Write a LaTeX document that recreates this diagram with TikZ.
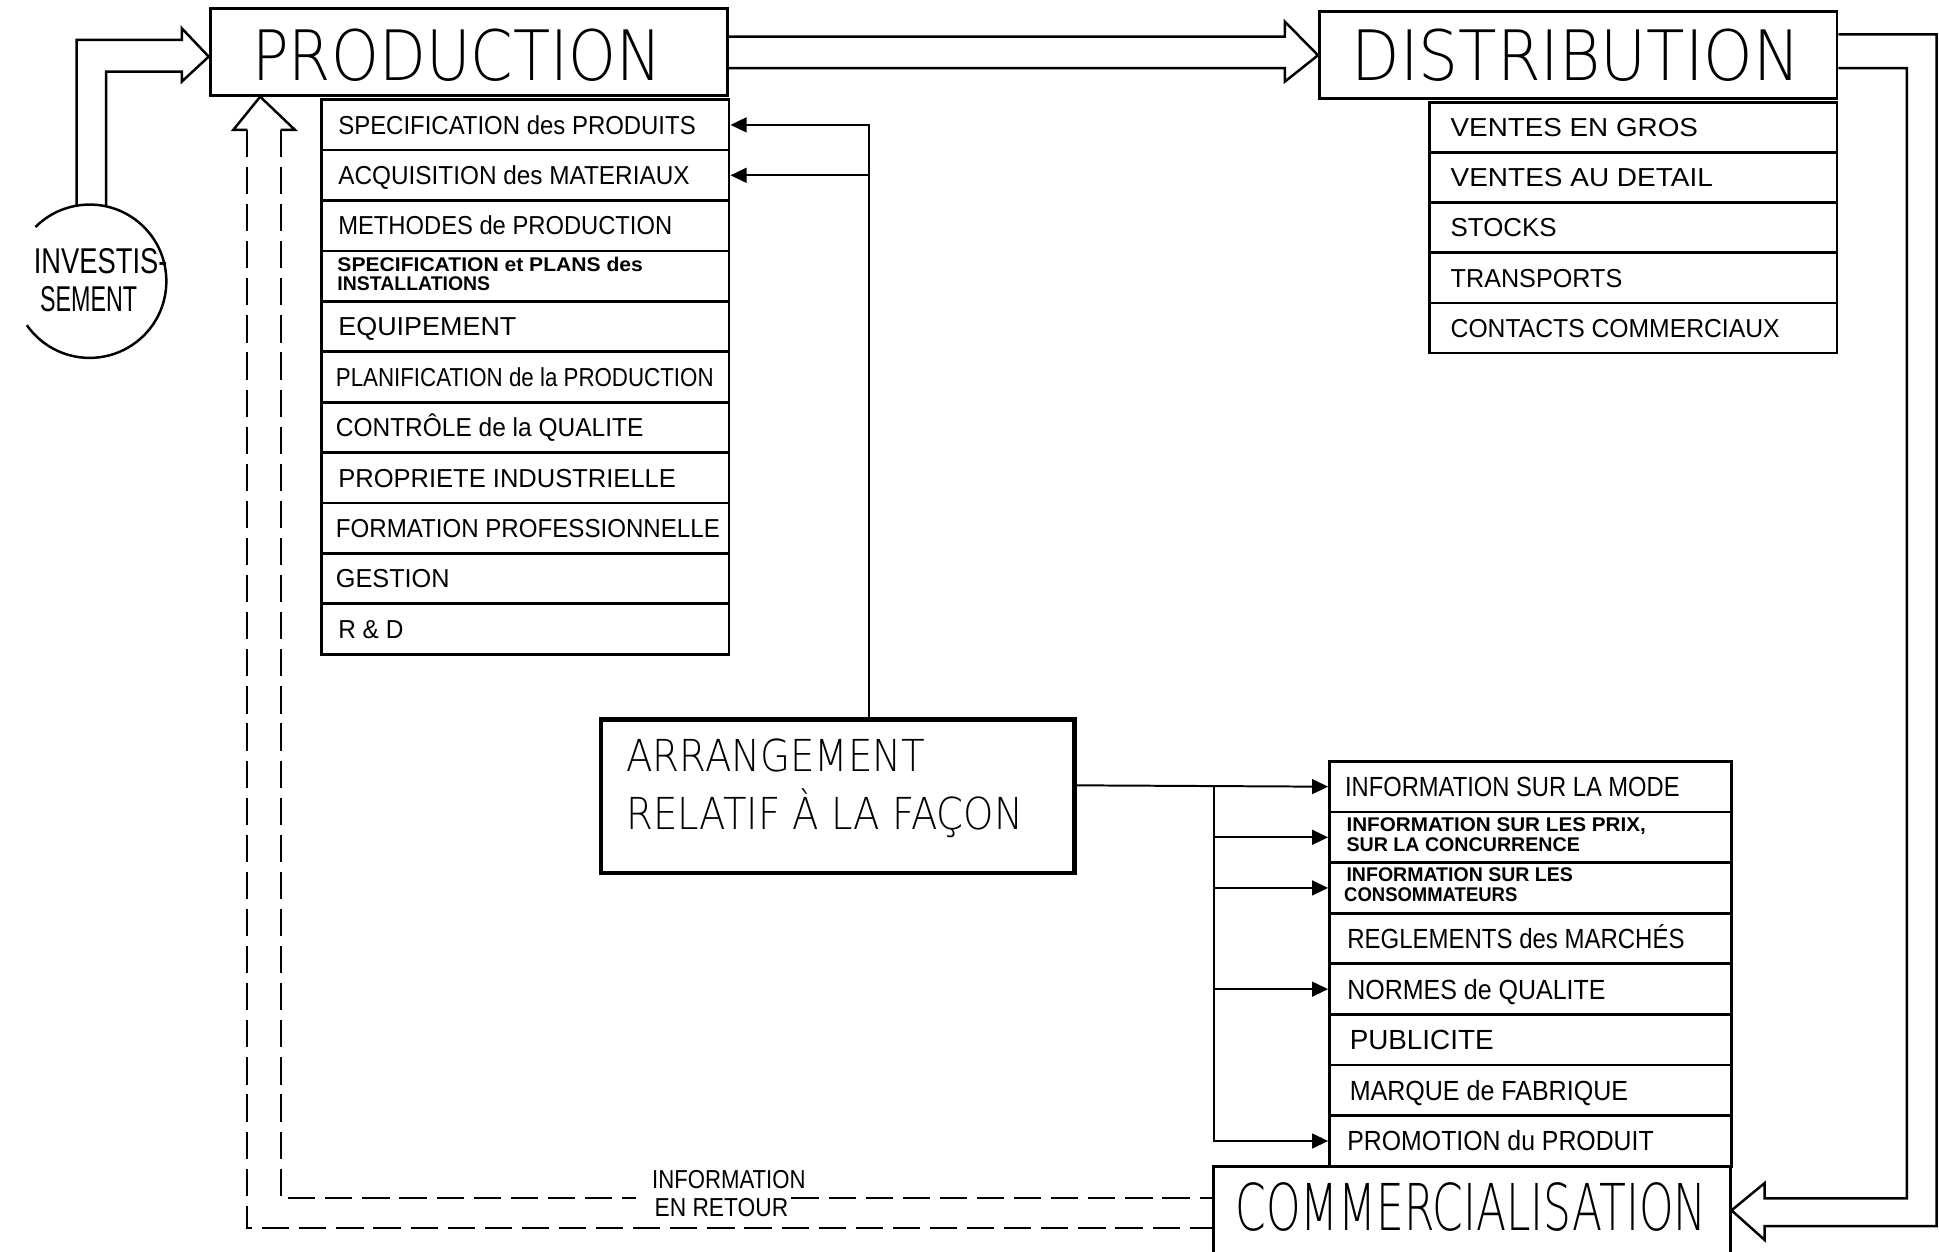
\documentclass[tikz,border=0pt]{standalone}
\usepackage{fontspec}
\setmainfont{Liberation Sans}
\newfontfamily\penfont{DejaVu Sans ExtraLight}
\usepackage{graphicx}
\usetikzlibrary{arrows.meta}

% one drawing unit
\newdimen\un \un=0.5pt
% set a text to a given width (in drawing units), keeping its height
\newcommand\fitw[2]{\resizebox{#1\un}{\height}{#2}}
% left-aligned text inside a box of given width
\newcommand\rtext[4]{\makebox[#1][l]{\hspace*{#2\un}\fitw{#3}{#4}}}
\newcommand\ptext[3]{\rtext{164.9pt}{#1}{#2}{#3}}
\newcommand\dtext[3]{\rtext{164.75pt}{#1}{#2}{#3}}
\newcommand\ctext[3]{\rtext{162.5pt}{#1}{#2}{#3}}

\tikzset{
  rowbase/.style={draw, line width=1.1pt, inner sep=0pt, anchor=north west, text depth=0pt},
  prow/.style={rowbase, minimum width=164.9pt, minimum height=20.385pt, text height=7.5pt, font=\fontsize{10.5}{12}\selectfont},
  drow/.style={rowbase, minimum width=164.75pt, minimum height=20.29pt, text height=7.5pt, font=\fontsize{10.5}{12}\selectfont},
  crow/.style={rowbase, minimum width=162.5pt, minimum height=20.465pt, text height=8pt, font=\fontsize{11.2}{13}\selectfont},
  titlebox/.style={draw, line width=1.2pt, inner sep=0pt, font=\penfont\fontsize{28.1}{30}\selectfont},
  txt/.style={inner sep=0pt, anchor=base west},
  smalltxt/.style={txt, font=\bfseries\fontsize{8}{9}\selectfont},
  wire/.style={line width=0.8pt},
  arrowlink/.style={wire, -{Triangle[length=6.5pt,width=6pt]}},
  hollow/.style={line width=1pt, line join=miter},
  feed/.style={line width=0.8pt, dash pattern=on 11pt off 4pt},
}

\begin{document}
\begin{tikzpicture}[x=0.5pt, y=-0.5pt]
\useasboundingbox (0,0) rectangle (1568,1012);
\clip (0,0) rectangle (1568,1012);

% ---------------- main blocks ----------------
\node[titlebox, minimum width=209.25pt, minimum height=35pt, text height=22.7pt, text depth=0pt]
  (prod) at (379.25,42) {\rtext{209.25pt}{34}{331}{PRODUCTION}};
\node[titlebox, minimum width=209.25pt, minimum height=35.3pt, text height=20.5pt, text depth=0pt]
  (dist) at (1276.25,44.7) {\rtext{209.25pt}{26}{363}{DISTRIBUTION}};
\node[titlebox, minimum width=209pt, minimum height=35.25pt, text height=19pt, text depth=2.75pt,
  font=\penfont\fontsize{26.1}{28}\selectfont]
  (comm) at (1190,978.75) {\rtext{209pt}{18}{381}{COMMERCIALISATION}};

% ---------------- production items ----------------
\node[prow] (p1)  at (258.7,79.5)   {\ptext{13.8}{289}{SPECIFICATION des PRODUITS}};
\node[prow] (p2)  at (258.7,120.27) {\ptext{13.8}{284}{ACQUISITION des MATERIAUX}};
\node[prow] (p3)  at (258.7,161.04) {\ptext{13.8}{270}{METHODES de PRODUCTION}};
\node[prow] (p4)  at (258.7,201.81) {};
\node[prow] (p5)  at (258.7,242.58) {\ptext{13.8}{144}{EQUIPEMENT}};
\node[prow] (p6)  at (258.7,283.35) {\ptext{11.8}{305.5}{PLANIFICATION de la PRODUCTION}};
\node[prow] (p7)  at (258.7,324.12) {\ptext{11.8}{248.7}{CONTRÔLE de la QUALITE}};
\node[prow] (p8)  at (258.7,364.89) {\ptext{13.8}{273}{PROPRIETE INDUSTRIELLE}};
\node[prow] (p9)  at (258.7,405.66) {\ptext{11.8}{310.5}{FORMATION PROFESSIONNELLE}};
\node[prow] (p10) at (258.7,446.43) {\ptext{11.8}{92}{GESTION}};
\node[prow] (p11) at (258.7,487.2)  {\ptext{13.8}{52.6}{R \& D}};
\node[smalltxt] (p4a) at (272.5,219.7) {\fitw{247}{SPECIFICATION et PLANS des}};
\node[smalltxt] (p4b) at (272.5,234.6) {\fitw{123.5}{INSTALLATIONS}};

% ---------------- distribution items ----------------
\node[drow] (d1) at (1155,81.5)   {\dtext{17}{200}{VENTES EN GROS}};
\node[drow] (d2) at (1155,122.08) {\dtext{17}{212}{VENTES AU DETAIL}};
\node[drow] (d3) at (1155,162.66) {\dtext{17}{85.7}{STOCKS}};
\node[drow] (d4) at (1155,203.24) {\dtext{17}{138.8}{TRANSPORTS}};
\node[drow] (d5) at (1155,243.82) {\dtext{17}{266}{CONTACTS COMMERCIAUX}};

% ---------------- marketing items ----------------
\node[crow] (c1) at (1074,614.6)  {\ctext{12.6}{270.6}{INFORMATION SUR LA MODE}};
\node[crow] (c2) at (1074,655.53) {};
\node[crow] (c3) at (1074,696.46) {};
\node[crow] (c4) at (1074,737.39) {\ctext{14.5}{272.6}{REGLEMENTS des MARCHÉS}};
\node[crow] (c5) at (1074,778.32) {\ctext{14.5}{208.8}{NORMES de QUALITE}};
\node[crow] (c6) at (1074,819.25) {\ctext{16.4}{116.3}{PUBLICITE}};
\node[crow] (c7) at (1074,860.18) {\ctext{16.4}{225}{MARQUE de FABRIQUE}};
\node[crow] (c8) at (1074,901.11) {\ctext{14.5}{247.7}{PROMOTION du PRODUIT}};
\node[smalltxt] (c2a) at (1088.5,672.6) {\fitw{242}{INFORMATION SUR LES PRIX,}};
\node[smalltxt] (c2b) at (1088.5,688.7) {\fitw{188.7}{SUR LA CONCURRENCE}};
\node[smalltxt] (c3a) at (1088.5,713)   {\fitw{183}{INFORMATION SUR LES}};
\node[smalltxt] (c3b) at (1086.6,729)   {\fitw{140}{CONSOMMATEURS}};

% ---------------- agreement block ----------------
\node[draw, line width=1.8pt, minimum width=191.5pt, minimum height=62pt, inner sep=0pt]
  (arr) at (677.5,644) {};
\node[txt, font=\penfont\fontsize{17.8}{20}\selectfont] (arr1) at (506,624) {\fitw{242}{ARRANGEMENT}};
\node[txt, font=\penfont\fontsize{17.8}{20}\selectfont] (arr2) at (506,671) {\fitw{321}{RELATIF À LA FAÇON}};

% ---------------- investment circle ----------------
\node[circle, minimum size=62pt, inner sep=0pt] (inv) at (72.8,227.7) {};
\begin{scope}[y=0.5pt]
  \draw[line width=1pt] (inv.135) arc[start angle=135, end angle=-145, radius=62];
\end{scope}
\node[txt, font=\fontsize{14.5}{16}\selectfont] (inv1) at (27,221) {\fitw{108}{INVESTIS-}};
\node[txt, font=\fontsize{14.5}{16}\selectfont] (inv2) at (32,252) {\fitw{78.5}{SEMENT}};

% ---------------- hollow flow arrows ----------------
\draw[hollow] (inv.100) |- (147,32.3) -- (147,22.9) -- ([yshift=-1.9pt]prod.west)
  -- (147,66) -- (147,58) -| (inv.78);
\draw[hollow] ([yshift=6.15pt]prod.east) -- (1039,29.7) -- (1039,17.5) -- (dist.west)
  -- (1039,66) -- (1039,55) -- ([yshift=-6.5pt]prod.east);
\draw[hollow] ([yshift=8.45pt]dist.east) -- (1566,27.8) -- (1566,991.5) -- (1427,991.5)
  -- (1427,1002.7) -- (comm.east) -- (1427,956.7) -- (1427,969) -- (1542,969)
  -- (1542,55) -- ([yshift=-5.15pt]dist.east);

% ---------------- feedback (dashed) ----------------
\draw[hollow] (200,105) -- (188.7,105) -- ([xshift=20.8pt]prod.south west)
  -- (238.5,105) -- (227,105);
\draw[feed] (200,105) -- (200,993) -- ([yshift=-7.125pt]comm.west);
\draw[feed] (227,105) -- (227,969) -- (514,969);
\draw[feed] (640,969) -- ([yshift=4.875pt]comm.west);
\node[txt, font=\fontsize{10.5}{12}\selectfont] (fb1) at (527,961) {\fitw{124}{INFORMATION}};
\node[txt, font=\fontsize{10.5}{12}\selectfont] (fb2) at (529,984) {\fitw{108}{EN RETOUR}};

% ---------------- agreement links ----------------
\draw[arrowlink] ([xshift=12.75pt]arr.north) |- (p1.east);
\draw[arrowlink] ([xshift=12.75pt]arr.north) |- (p2.east);
\draw[arrowlink] ([yshift=4.465pt]arr.east) -- (c1.west);
\coordinate (bus) at (981.5,635.07);
\draw[arrowlink] (bus) |- (c2.west);
\draw[arrowlink] (bus) |- (c3.west);
\draw[arrowlink] (bus) |- (c5.west);
\draw[arrowlink] (bus) |- (c8.west);

\end{tikzpicture}
\end{document}
